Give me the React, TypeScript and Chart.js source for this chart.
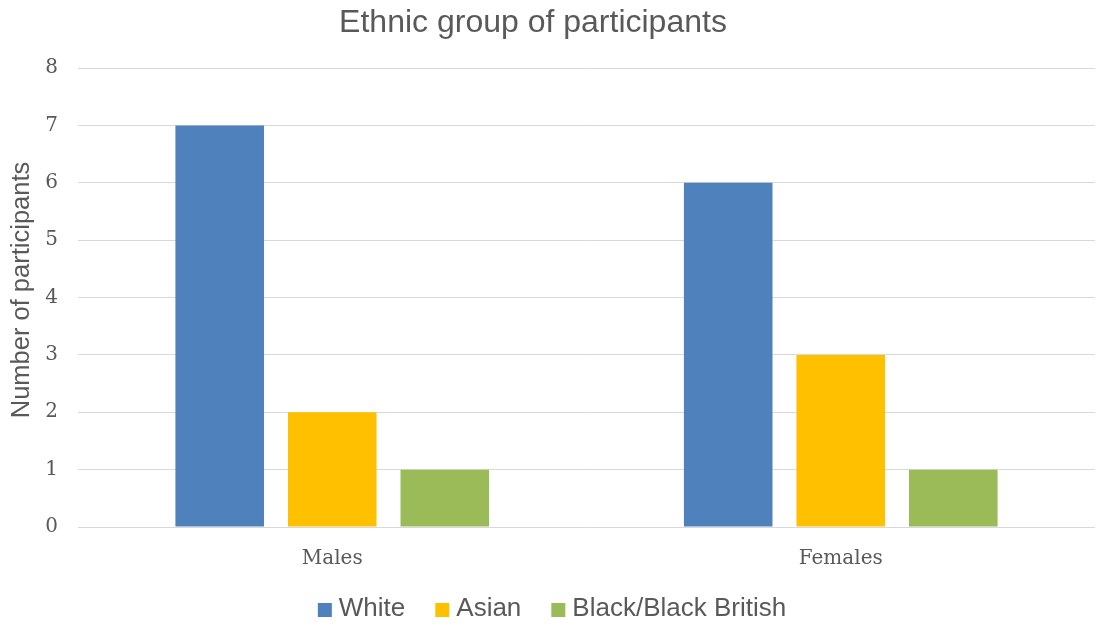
import React, { useEffect, useRef } from "react";
import { Chart, registerables } from "chart.js";

Chart.register(...registerables);

const categories = ["Males", "Females"];
const white = [7, 6];
const asian = [2, 3];
const blackBritish = [1, 1];
const yTicks = [0, 1, 2, 3, 4, 5, 6, 7, 8];

const TEXT = "#595959";
const GRID = "#d9d9d9";
const SANS = '"Liberation Sans", Arial, sans-serif';

// Heading and rotated y-axis caption
const titlePlugin = {
  id: "chartHeading",
  afterDraw(chart: any) {
    const { ctx } = chart;
    ctx.save();
    ctx.font = `32px ${SANS}`;
    ctx.fillStyle = TEXT;
    ctx.textAlign = "center";
    ctx.textBaseline = "middle";
    ctx.fillText("Ethnic group of participants", 533, 23);

    ctx.translate(22, 290);
    ctx.rotate(-Math.PI / 2);
    ctx.font = `25.5px ${SANS}`;
    ctx.fillText("Number of participants", 0, 0);
    ctx.restore();
  },
};

// Compact legend row under the x axis
const legendRowPlugin = {
  id: "legendRow",
  afterDraw(chart: any) {
    const { ctx } = chart;
    const box = 14;
    const gap = 7;
    const spacing = 30;
    const cy = 609;
    ctx.save();
    ctx.font = `26px ${SANS}`;
    const items = chart.data.datasets.map((ds: any) => ({
      label: ds.label as string,
      color: ds.backgroundColor as string,
      w: ctx.measureText(ds.label).width,
    }));
    const total =
      items.reduce((s: number, it: any) => s + box + gap + it.w, 0) + spacing * (items.length - 1);
    let x = 552 - total / 2;
    ctx.textBaseline = "middle";
    ctx.textAlign = "left";
    for (const it of items) {
      ctx.fillStyle = it.color;
      ctx.fillRect(x, cy - 6, box, box);
      ctx.fillStyle = TEXT;
      ctx.fillText(it.label, x + box + gap, cy);
      x += box + gap + it.w + spacing;
    }
    ctx.restore();
  },
};

export default function App() {
  const ref = useRef<HTMLCanvasElement | null>(null);

  useEffect(() => {
    if (!ref.current) return;
    const chart = new Chart(ref.current, {
      type: "bar",
      data: {
        labels: categories,
        datasets: [
          { label: "White", data: white, backgroundColor: "#4F81BD" },
          { label: "Asian", data: asian, backgroundColor: "#FFC000" },
          { label: "Black/Black British", data: blackBritish, backgroundColor: "#9BBB59" },
        ],
      },
      options: {
        responsive: false,
        animation: false,
        layout: { padding: { top: 68, right: 2, left: 0, bottom: 51 } },
        datasets: {
          bar: { categoryPercentage: 0.664, barPercentage: 0.787 },
        },
        plugins: {
          title: { display: false },
          tooltip: { enabled: false },
          legend: { display: false },
        },
        scales: {
          x: {
            grid: { display: false, drawTicks: false },
            border: { display: false },
            ticks: {
              color: TEXT,
              padding: 20,
              font: { family: '"DejaVu Serif", serif', size: 20 },
            },
            afterFit(scale: any) {
              scale.height = 48;
            },
          },
          y: {
            min: 0,
            max: 8,
            afterBuildTicks(scale: any) {
              scale.ticks = yTicks.map((v) => ({ value: v }));
            },
            grid: { color: GRID, lineWidth: 1, drawTicks: false },
            border: { display: false },
            ticks: {
              color: TEXT,
              padding: 20,
              font: { family: '"DejaVu Serif", serif', size: 20 },
            },
            afterFit(scale: any) {
              scale.width = 78;
            },
          },
        },
      },
      plugins: [titlePlugin, legendRowPlugin],
    });
    return () => chart.destroy();
  }, []);

  return (
    <div style={{ position: "fixed", left: 0, top: 0, width: 1097, height: 626, background: "#fff" }}>
      <canvas ref={ref} width={1097} height={626} />
    </div>
  );
}
